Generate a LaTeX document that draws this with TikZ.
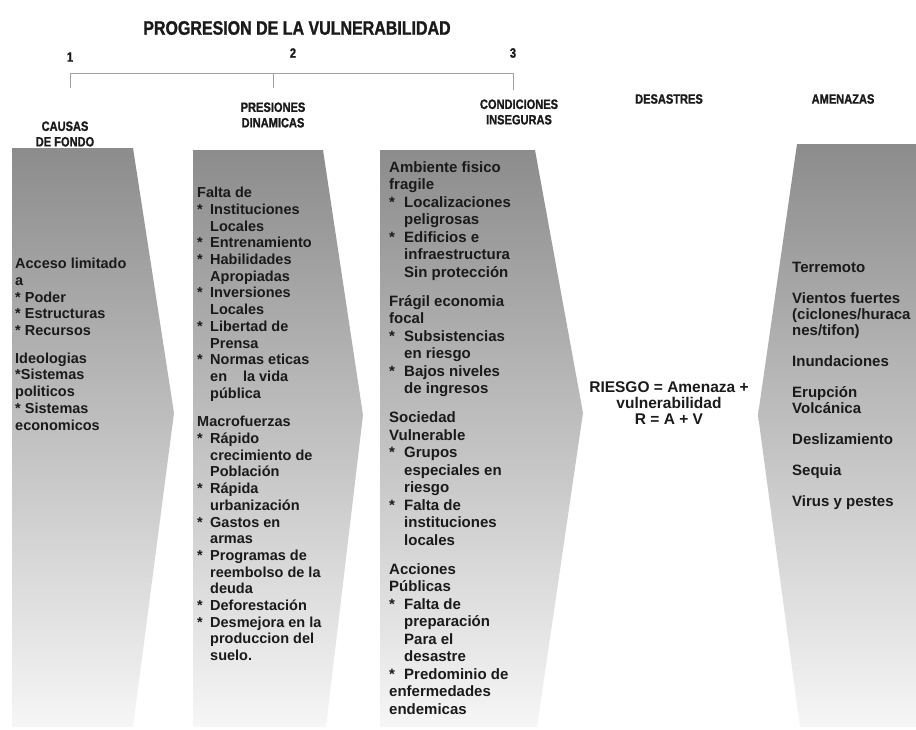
\documentclass[tikz,border=0pt]{standalone}
\usepackage{fontspec}
\setmainfont{Liberation Sans}
\newfontfamily\hdrfont{Liberation Sans}[FakeStretch=0.82, BoldFeatures={FakeStretch=0.82, FakeBold=1.2}]
\definecolor{shadetop}{HTML}{8C8C8C}
\definecolor{shadebot}{HTML}{F6F6F6}
\definecolor{inkcol}{HTML}{1A1A1A}
\definecolor{rulecol}{HTML}{A0A0A0}
\newlength{\bulw}
\newcommand{\bul}[1]{\makebox[\bulw][l]{*}#1}
\newcommand{\sig}[1]{\hspace*{\bulw}#1}
\tikzset{
  colbox/.style={top color=shadetop, bottom color=shadebot},
  coltext/.style={anchor=north west, inner sep=0pt, align=left, text=inkcol,
    execute at begin node={\setlength{\bulw}{#1}}},
  hdr/.style={align=center, inner sep=0pt, text=inkcol,
    font=\hdrfont\bfseries\fontsize{13.5}{15.5}\selectfont},
  bracket/.style={draw=rulecol, line width=0.9pt}
}
\begin{document}
\begin{tikzpicture}[x=1pt, y=-1pt]
\useasboundingbox (0,0) rectangle (916,729);

% shaded columns
\shade[colbox] (12,148) -- (133,148) -- (174,413) -- (133,727) -- (12,727) -- cycle;
\shade[colbox] (193,150) -- (323,150) -- (363,415) -- (326,727) -- (193,727) -- cycle;
\shade[colbox] (380,150) -- (535,150) -- (583,413) -- (537,727) -- (380,727) -- cycle;
\shade[colbox] (797,144) -- (916,144) -- (916,727) -- (800,727) -- (758,415) -- cycle;

% title and bracket
\node[hdr, font=\hdrfont\bfseries\fontsize{19.5}{22}\selectfont] (title) at (297,28) {PROGRESION DE LA VULNERABILIDAD};
\node[hdr] (n1) at (70,57) {1};
\node[hdr] (n2) at (293,53) {2};
\node[hdr] (n3) at (513,53) {3};
\coordinate (b1) at (70,73);
\coordinate (b2) at (273,73);
\coordinate (b3) at (513,73);
\coordinate (t1) at (70,88);
\coordinate (t2) at (273,88);
\coordinate (t3) at (513,90);
\draw[bracket] (b1) -- (b3);
\foreach \a/\b in {b1/t1, b2/t2, b3/t3}
    \draw[bracket] (\a) -- (\b);

% headers
\node[hdr] (h1) at (65,134) {CAUSAS\\DE FONDO};
\node[hdr] (h2) at (273,115) {PRESIONES\\DINAMICAS};
\node[hdr] (h3) at (519,112) {CONDICIONES\\INSEGURAS};
\node[hdr] (h4) at (669,99) {DESASTRES};
\node[hdr] (h5) at (843,99) {AMENAZAS};

% column texts
\node[coltext=13pt, font=\bfseries\fontsize{14.5}{16.7}\selectfont] (c1) at (15,258) {%
Acceso limitado\\
a\\
{*} Poder\\
{*} Estructuras\\
{*} Recursos\\[11pt]
Ideologias\\
{*}Sistemas\\
politicos\\
{*} Sistemas\\
economicos};

\node[coltext=13pt, font=\bfseries\fontsize{14.5}{16.7}\selectfont] (c2) at (197,187) {%
Falta de\\
\bul{Instituciones}\\
\sig{Locales}\\
\bul{Entrenamiento}\\
\bul{Habilidades}\\
\sig{Apropiadas}\\
\bul{Inversiones}\\
\sig{Locales}\\
\bul{Libertad de}\\
\sig{Prensa}\\
\bul{Normas eticas}\\
\sig{en\hspace{1.1em}la vida}\\
\sig{pública}\\[12pt]
Macrofuerzas\\
\bul{Rápido}\\
\sig{crecimiento de}\\
\sig{Población}\\
\bul{Rápida}\\
\sig{urbanización}\\
\bul{Gastos en}\\
\sig{armas}\\
\bul{Programas de}\\
\sig{reembolso de la}\\
\sig{deuda}\\
\bul{Deforestación}\\
\bul{Desmejora en la}\\
\sig{produccion del}\\
\sig{suelo.}};

\node[coltext=15pt, font=\bfseries\fontsize{15}{17.5}\selectfont] (c3) at (389,161) {%
Ambiente fisico\\
fragile\\
\bul{Localizaciones}\\
\sig{peligrosas}\\
\bul{Edificios e}\\
\sig{infraestructura}\\
\sig{Sin protección}\\[11.5pt]
Frágil economia\\
focal\\
\bul{Subsistencias}\\
\sig{en riesgo}\\
\bul{Bajos niveles}\\
\sig{de ingresos}\\[11.5pt]
Sociedad\\
Vulnerable\\
\bul{Grupos}\\
\sig{especiales en}\\
\sig{riesgo}\\
\bul{Falta de}\\
\sig{instituciones}\\
\sig{locales}\\[11.5pt]
Acciones\\
Públicas\\
\bul{Falta de}\\
\sig{preparación}\\
\sig{Para el}\\
\sig{desastre}\\
\bul{Predominio de}\\
enfermedades\\
endemicas};

\node[anchor=north, inner sep=0pt, align=center, text=inkcol,
      font=\bfseries\fontsize{15.5}{16}\selectfont] (riesgo) at (669,381) {%
RIESGO = Amenaza +\\
vulnerabilidad\\
R = A + V};

\node[coltext=0pt, font=\bfseries\fontsize{15}{16}\selectfont] (c5) at (792,262) {%
Terremoto\\[15pt]
Vientos fuertes\\
(ciclones/huraca\\
nes/tifon)\\[15pt]
Inundaciones\\[15pt]
Erupción\\
Volcánica\\[15pt]
Deslizamiento\\[15pt]
Sequia\\[15pt]
Virus y pestes};
\end{tikzpicture}
\end{document}
